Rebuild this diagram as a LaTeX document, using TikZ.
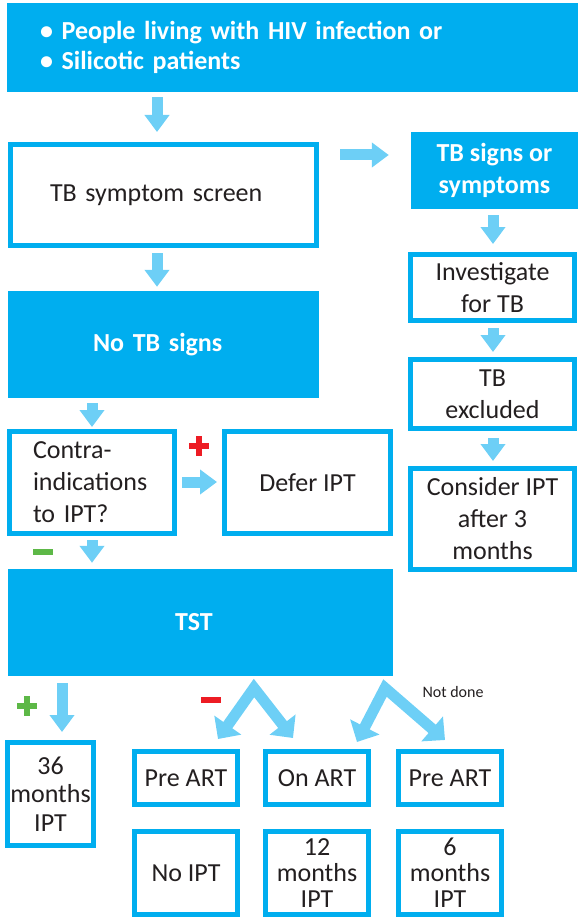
\documentclass[tikz,border=0pt]{standalone}
\usepackage{fontspec}
\setmainfont{Carlito}
\usetikzlibrary{arrows.meta}
\definecolor{boxcyan}{HTML}{00AEEF}
\definecolor{flowblue}{HTML}{6DCFF6}
\definecolor{ink}{HTML}{231F20}
\definecolor{signred}{HTML}{ED1C24}
\definecolor{signgreen}{HTML}{5DB847}
\begin{document}
\begin{tikzpicture}[x=1pt,y=-1pt,
  solid box/.style={fill=boxcyan, text=white, align=center, inner sep=0pt,
    font=\fontsize{26}{32}\selectfont\bfseries},
  open box/.style={draw=boxcyan, line width=5pt, fill=white, text=ink, align=center,
    inner sep=0pt, font=\fontsize{26}{32}\selectfont},
  flow/.style={draw=flowblue, line width=11pt, -{Triangle[length=17pt,width=24pt]}},
  fork/.style={draw=flowblue, line width=11pt, line join=miter,
    {Triangle[length=17pt,width=32pt]}-{Triangle[length=17pt,width=32pt]}},
  sign/.style={line width=6pt}]
\useasboundingbox (0,0) rectangle (579,920);

% --- boxes ---
\node[solid box, minimum width=571pt, minimum height=89pt, text width=505pt, align=left,
  font=\fontsize{26}{30}\selectfont\bfseries] (pop) at (292.5,47.5)
  {• People living with HIV infection or\\• Silicotic patients};
\node[open box, minimum width=306pt, minimum height=101pt, text width=227pt, align=left]
  (screen) at (163.5,195) {TB symptom screen};
\node[solid box, minimum width=167pt, minimum height=77pt] (signs) at (494.5,170.5)
  {TB signs or\\symptoms};
\node[open box, minimum width=164pt, minimum height=66pt] (invest) at (492.5,287.5)
  {Investigate\\for TB};
\node[open box, minimum width=164pt, minimum height=69pt] (excl) at (492.5,394)
  {TB\\excluded};
\node[open box, minimum width=164pt, minimum height=101pt] (consider) at (492.5,519)
  {Consider IPT\\after 3\\months};
\node[solid box, minimum width=311pt, minimum height=107pt, text width=141pt, align=left]
  (notb) at (163.5,344.5) {No TB signs};
\node[open box, minimum width=165pt, minimum height=102pt, text width=118pt, align=left]
  (contra) at (92,482.5) {Contra-\\indications\\to IPT?};
\node[open box, minimum width=166pt, minimum height=102pt] (defer) at (307.5,482.5)
  {Defer IPT};
\node[solid box, minimum width=385pt, minimum height=107pt, text width=51pt, align=left]
  (tst) at (200.5,622.5) {TST};
\node[open box, minimum width=86pt, minimum height=103pt,
  font=\fontsize{26}{28.5}\selectfont] (m36) at (50.5,794) {36\\months\\IPT};
\node[open box, minimum width=103pt, minimum height=53pt] (pre1) at (186,778) {Pre ART};
\node[open box, minimum width=103pt, minimum height=53pt] (onart) at (317,778) {On ART};
\node[open box, minimum width=103pt, minimum height=53pt] (pre2) at (450,778) {Pre ART};
\node[open box, minimum width=103pt, minimum height=83pt] (noipt) at (186,873) {No IPT};
\node[open box, minimum width=103pt, minimum height=83pt,
  font=\fontsize{26}{26}\selectfont] (m12) at (317,873) {12\\months\\IPT};
\node[open box, minimum width=103pt, minimum height=83pt,
  font=\fontsize{26}{26}\selectfont] (m6) at (450,873) {6\\months\\IPT};
\node[text=ink, font=\fontsize{16}{18}\selectfont, inner sep=0pt] (notdone) at (453,692)
  {Not done};

% --- straight connectors ---
\draw[flow, shorten <=5pt, shorten >=10pt] (pop.south -| 157,0) -- (screen.north -| 157,0);
\draw[flow, shorten <=21pt, shorten >=22pt] (screen.east |- 0,155) -- (signs.west |- 0,155);
\draw[flow, shorten <=6pt, shorten >=8pt] (signs.south -| 493,0) -- (invest.north -| 493,0);
\draw[flow, shorten <=5pt, shorten >=5pt] (invest.south -| 493,0) -- (excl.north -| 493,0);
\draw[flow, shorten <=7pt, shorten >=5pt] (excl.south -| 493,0) -- (consider.north -| 493,0);
\draw[flow, shorten <=5pt, shorten >=4pt] (screen.south -| 157,0) -- (notb.north -| 157,0);
\draw[flow, shorten <=5pt, shorten >=2pt] (notb.south -| 92,0) -- (contra.north -| 92,0);
\draw[flow, shorten <=5pt, shorten >=5pt] (contra.east |- 0,482) -- (defer.west |- 0,482);
\draw[flow, shorten <=4pt, shorten >=6pt] (contra.south -| 92,0) -- (tst.north -| 92,0);
\draw[flow, shorten <=7pt, shorten >=8pt] (tst.south -| 62,0) -- (m36.north -| 62,0);

% --- forks below the TST box ---
\coordinate (apexA) at (254,688);
\coordinate (tipA1) at (218,739);
\coordinate (tipA2) at (293,738);
\coordinate (apexB) at (385,688);
\coordinate (tipB1) at (357,742);
\coordinate (tipB2) at (445,740);
\draw[fork] (tipA1) -- (apexA) -- (tipA2);
\draw[fork] (tipB1) -- (apexB) -- (tipB2);

% --- plus / minus marks ---
\draw[sign, signred] (189,446) -- (209,446) (199,436) -- (199,456);
\draw[sign, signgreen] (33,552) -- (53,552);
\draw[sign, signgreen] (17,706) -- (37,706) (27,696) -- (27,716);
\draw[sign, signred] (201,700) -- (221,700);
\end{tikzpicture}
\end{document}
